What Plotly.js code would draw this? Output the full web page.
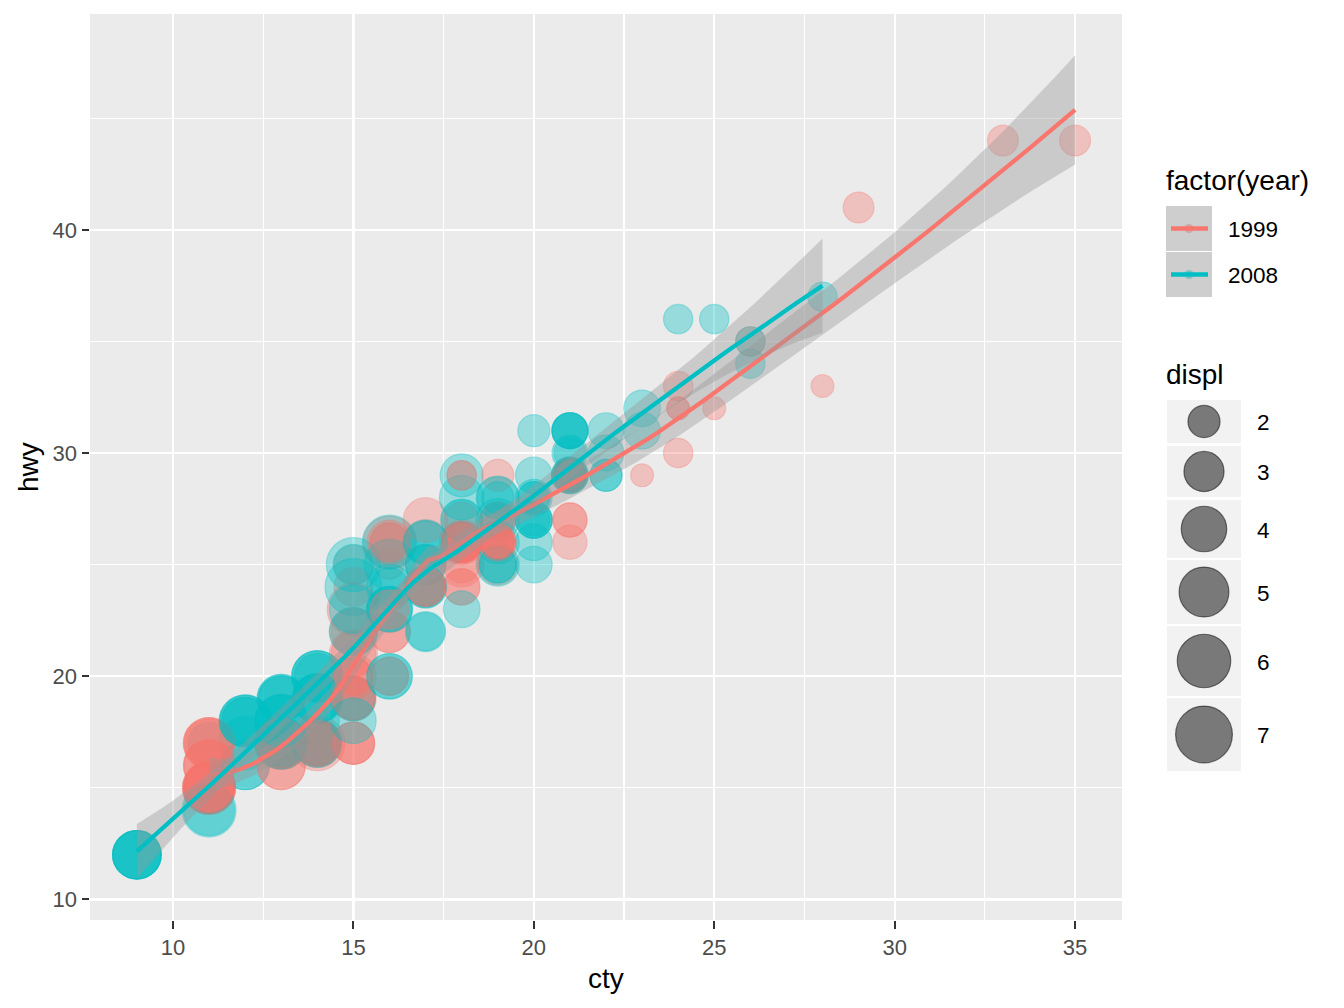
<!DOCTYPE html>
<html>
<head>
<meta charset="utf-8">
<script src="https://cdn.plot.ly/plotly-3.0.1.min.js"></script>
<style>html,body{margin:0;padding:0;background:#fff;}#chart{width:1344px;height:1008px;}</style>
</head>
<body>
<div id="chart"></div>
<script>
// ---- data (mpg: cty, hwy, displ, year), row order ----
const cty = [18,21,20,21,16,18,18,18,16,20,19,15,17,17,15,15,17,16,14,11,14,13,12,16,15,16,15,15,14,11,11,14,19,22,18,18,17,18,17,16,16,17,17,11,15,15,16,16,15,14,13,14,14,14,9,11,11,13,13,9,13,11,13,11,12,9,13,13,12,9,11,11,13,11,11,11,12,14,15,14,13,13,13,14,14,13,13,13,11,13,18,18,17,16,15,15,15,15,14,28,24,25,23,24,26,25,24,21,18,18,21,21,18,18,19,19,19,20,20,17,16,17,17,15,15,14,9,14,13,11,11,12,12,11,11,11,12,14,13,13,13,21,19,23,23,19,19,18,19,19,14,15,14,12,18,16,17,18,16,18,18,20,19,20,18,21,19,19,19,20,20,19,20,15,16,15,15,16,14,21,21,21,21,18,18,19,21,21,21,22,18,18,18,24,24,26,28,26,11,13,15,16,17,15,15,15,16,21,19,21,22,17,33,21,19,22,21,21,21,16,17,35,29,21,19,20,20,21,18,19,21,16,18,17];
const hwy = [29,29,31,30,26,26,27,26,25,28,27,25,25,25,25,24,25,23,20,15,20,17,17,26,23,26,25,24,19,14,15,17,27,30,26,29,26,24,24,22,22,24,24,17,22,21,23,23,19,18,17,17,19,19,12,17,15,17,17,12,17,16,18,15,16,12,17,17,16,12,15,16,17,15,17,17,18,17,19,17,19,19,17,17,17,16,16,17,15,17,26,25,26,24,21,22,23,22,20,33,32,32,29,32,34,36,36,29,26,27,30,31,26,26,28,26,29,28,27,24,24,24,22,19,20,17,12,19,18,14,15,18,18,15,17,16,18,17,19,19,17,29,27,31,32,27,26,26,25,25,17,17,20,18,26,26,27,28,25,25,24,27,25,26,23,26,26,26,26,25,27,25,27,20,20,19,17,20,17,29,27,31,31,26,26,28,27,29,31,31,26,26,27,30,33,35,37,35,15,18,20,20,22,17,19,18,20,29,26,29,29,24,44,29,26,29,29,29,29,23,24,44,41,29,26,28,29,29,29,28,29,26,26,26];
const displ = [1.8,1.8,2.0,2.0,2.8,2.8,3.1,1.8,1.8,2.0,2.0,2.8,2.8,3.1,3.1,2.8,3.1,4.2,5.3,5.3,5.3,5.7,6.0,5.7,5.7,6.2,6.2,7.0,5.3,5.3,5.7,6.5,2.4,2.4,3.1,3.5,3.6,2.4,3.0,3.3,3.3,3.3,3.3,3.3,3.8,3.8,3.8,4.0,3.7,3.7,3.9,3.9,4.7,4.7,4.7,5.2,5.2,3.9,4.7,4.7,4.7,5.2,5.7,5.9,4.7,4.7,4.7,4.7,4.7,4.7,5.2,5.2,5.7,5.9,4.6,5.4,5.4,4.0,4.0,4.0,4.0,4.6,5.0,4.2,4.2,4.6,4.6,4.6,5.4,5.4,3.8,3.8,4.0,4.0,4.6,4.6,4.6,4.6,5.4,1.6,1.6,1.6,1.6,1.6,1.8,1.8,1.8,2.0,2.4,2.4,2.4,2.4,2.5,2.5,3.3,2.0,2.0,2.0,2.0,2.7,2.7,2.7,3.0,3.7,4.0,4.7,4.7,4.7,5.7,6.1,4.0,4.2,4.4,4.6,5.4,5.4,5.4,4.0,4.0,4.6,5.0,2.4,2.4,2.5,2.5,3.5,3.5,3.0,3.0,3.5,3.3,3.3,4.0,5.6,3.1,3.8,3.8,3.8,5.3,2.5,2.5,2.5,2.5,2.5,2.5,2.2,2.2,2.5,2.5,2.5,2.5,2.5,2.5,2.7,2.7,3.4,3.4,4.0,4.7,2.2,2.2,2.4,2.4,3.0,3.0,3.5,2.2,2.2,2.4,2.4,3.0,3.0,3.3,1.8,1.8,1.8,1.8,1.8,4.7,5.7,2.7,2.7,2.7,3.4,3.4,4.0,4.0,2.0,2.0,2.0,2.0,2.8,1.9,2.0,2.0,2.0,2.0,2.5,2.5,2.8,2.8,1.9,1.9,2.0,2.0,2.5,2.5,1.8,1.8,2.0,2.0,2.8,2.8,3.6];
const year = [1999,1999,2008,2008,1999,1999,2008,1999,1999,2008,2008,1999,1999,2008,2008,1999,2008,2008,2008,2008,2008,1999,2008,1999,1999,2008,2008,2008,2008,2008,1999,1999,1999,2008,1999,2008,2008,1999,1999,1999,1999,2008,2008,2008,1999,1999,2008,2008,2008,2008,1999,1999,2008,2008,2008,1999,1999,1999,2008,2008,2008,1999,2008,1999,2008,2008,2008,2008,2008,2008,1999,1999,2008,1999,1999,1999,2008,1999,1999,1999,2008,2008,1999,1999,1999,1999,1999,2008,1999,2008,1999,1999,2008,2008,1999,1999,2008,2008,2008,1999,1999,1999,1999,1999,2008,2008,2008,2008,1999,1999,2008,2008,1999,1999,2008,1999,1999,2008,2008,2008,2008,2008,2008,2008,1999,1999,2008,2008,2008,2008,1999,2008,2008,1999,1999,1999,2008,1999,2008,2008,1999,1999,1999,2008,2008,2008,2008,1999,1999,2008,1999,1999,2008,2008,1999,1999,1999,2008,2008,1999,1999,2008,2008,2008,2008,1999,1999,1999,1999,2008,2008,2008,2008,1999,1999,1999,1999,2008,2008,1999,1999,2008,2008,1999,1999,2008,1999,1999,2008,2008,1999,1999,2008,1999,1999,1999,2008,2008,1999,2008,1999,1999,2008,1999,1999,2008,2008,1999,1999,2008,2008,1999,1999,1999,1999,2008,2008,2008,2008,1999,1999,1999,1999,1999,1999,2008,2008,1999,1999,2008,2008,1999,1999,2008];
const yearLevels = [1999, 2008];
const displBreaks = [2, 3, 4, 5, 6, 7];

// ---- styles ----
const yearColor = {1999: [248,118,109], 2008: [0,191,196]};
const rgba = (c, a) => `rgba(${c[0]},${c[1]},${c[2]},${a})`;
const FONT = 'Liberation Sans, Arial, sans-serif';
const dMin = Math.min(...displ), dMax = Math.max(...displ);
const diam = d => 24 + 34 * Math.sqrt((d - dMin) / (dMax - dMin));
const STROKE = 1.2;

// ---- loess (degree 2, span 0.75, gaussian) as in geom_smooth ----
function loessWeights(xs, x0, q) {
  const n = xs.length;
  const d = xs.map(x => Math.abs(x - x0));
  const s = d.slice().sort((a, b) => a - b);
  let h = s[q - 1];
  if (h <= 0) h = 1e-9;
  const w = d.map(di => di < h ? Math.pow(1 - Math.pow(di / h, 3), 3) : 0);
  const z = xs.map(x => (x - x0) / h);
  let S = [0,0,0,0,0];
  for (let i = 0; i < n; i++) { let p = w[i]; for (let k = 0; k < 5; k++) { S[k] += p; p *= z[i]; } }
  const a=S[0],b=S[1],c=S[2],d2=S[3],e=S[4];
  // symmetric matrix [[a,b,c],[b,c,d2],[c,d2,e]]; first row of inverse
  const A00 = c*e - d2*d2, A01 = -(b*e - c*d2), A02 = b*d2 - c*c;
  const det = a*A00 + b*A01 + c*A02;
  const r0 = A00/det, r1 = A01/det, r2 = A02/det;
  return xs.map((x, i) => w[i] * (r0 + r1*z[i] + r2*z[i]*z[i]));
}
function loessSmooth(xs, ys, span, m) {
  const n = xs.length, q = Math.floor(n * span);
  const L = xs.map(x0 => loessWeights(xs, x0, q));
  const fitted = L.map(r => r.reduce((s, v, j) => s + v * ys[j], 0));
  let rss = 0; for (let i = 0; i < n; i++) rss += (ys[i] - fitted[i]) ** 2;
  const IL = L.map((r, i) => r.map((v, j) => (i === j ? 1 : 0) - v));
  const M = [];
  for (let i = 0; i < n; i++) { M.push(new Array(n).fill(0)); }
  for (let k = 0; k < n; k++) { const rk = IL[k]; for (let i = 0; i < n; i++) { const a = rk[i]; if (a === 0) continue; const Mi = M[i]; for (let j = 0; j < n; j++) Mi[j] += a * rk[j]; } }
  let d1 = 0, d2 = 0;
  for (let i = 0; i < n; i++) { d1 += M[i][i]; for (let j = 0; j < n; j++) d2 += M[i][j] ** 2; }
  const sigma = Math.sqrt(rss / d1), df = d1 * d1 / d2;
  const z = 1.959963985;
  const t = z + (z**3 + z) / 4 / df + (5*z**5 + 16*z**3 + 3*z) / 96 / df**2 + (3*z**7 + 19*z**5 + 17*z**3 - 15*z) / 384 / df**3;
  const lo = Math.min(...xs), hi = Math.max(...xs);
  const gx = [], gy = [], gl = [], gu = [];
  for (let k = 0; k < m; k++) {
    const x0 = lo + (hi - lo) * k / (m - 1);
    const l = loessWeights(xs, x0, q);
    const f = l.reduce((s, v, j) => s + v * ys[j], 0);
    const se = sigma * Math.sqrt(l.reduce((s, v) => s + v * v, 0));
    gx.push(x0); gy.push(f); gl.push(f - t * se); gu.push(f + t * se);
  }
  return {x: gx, y: gy, lo: gl, hi: gu};
}

const traces = [{
  type: 'scatter', mode: 'markers', x: cty, y: hwy, hoverinfo: 'skip', showlegend: false,
  marker: {size: displ.map(d => diam(d) - STROKE), color: year.map(y => rgba(yearColor[y], 0.5)),
           line: {width: STROKE, color: year.map(y => rgba(yearColor[y], 0.5))}}
}];
let yAll = hwy.slice();
yearLevels.forEach(yr => {
  const xs = [], ys = [];
  cty.forEach((c, i) => { if (year[i] === yr) { xs.push(c); ys.push(hwy[i]); } });
  const sm = loessSmooth(xs, ys, 0.75, 80);
  yAll = yAll.concat(sm.lo, sm.hi);
  traces.push({type: 'scatter', mode: 'lines', x: sm.x.concat(sm.x.slice().reverse()), y: sm.hi.concat(sm.lo.slice().reverse()),
    fill: 'toself', fillcolor: 'rgba(153,153,153,0.4)', line: {width: 0}, hoverinfo: 'skip', showlegend: false});
  traces.push({type: 'scatter', mode: 'lines', x: sm.x, y: sm.y, line: {color: rgba(yearColor[yr], 1), width: 4.3}, hoverinfo: 'skip', showlegend: false});
});

const xr0 = Math.min(...cty), xr1 = Math.max(...cty);
const yr0 = Math.min(...yAll), yr1 = Math.max(...yAll);
const xRange = [xr0 - 0.05 * (xr1 - xr0), xr1 + 0.05 * (xr1 - xr0)];
const yRange = [yr0 - 0.05 * (yr1 - yr0), yr1 + 0.05 * (yr1 - yr0)];

// ---- pixel helpers for legend (plot area 90..1122 x 14..920) ----
const PL = 90, PR = 1122, PT = 14, PB = 920;
const px = v => (v - PL) / (PR - PL);
const py = v => (PB - v) / (PB - PT);
const shapes = [], annotations = [];
const rect = (x0, y0, x1, y1, fill) => shapes.push({type: 'rect', xref: 'paper', yref: 'paper', x0: px(x0), x1: px(x1), y0: py(y1), y1: py(y0), fillcolor: fill, line: {width: 0}, layer: 'above'});
const circ = (cx, cy, d, fill, lineCol, lw) => shapes.push({type: 'circle', xref: 'paper', yref: 'paper', x0: px(cx - d/2), x1: px(cx + d/2), y0: py(cy + d/2), y1: py(cy - d/2), fillcolor: fill, line: {width: lw || 0, color: lineCol || fill}, layer: 'above'});
const text = (x, y, s, size, color, anchor) => annotations.push({xref: 'paper', yref: 'paper', x: px(x), y: py(y), text: s, showarrow: false, xanchor: anchor || 'left', yanchor: 'middle', font: {family: FONT, size: size, color: color}});

// year legend
text(1164, 180, 'factor(year)', 28, '#000');
const yKeys = [[206, 251], [252, 297]];
yearLevels.forEach((yr, k) => {
  const [a, b] = yKeys[k], cy = (a + b) / 2;
  rect(1166, a, 1212, b, '#F2F2F2');
  circ(1189, cy, 9, rgba(yearColor[yr], 0.5));
  rect(1166, a, 1212, b, 'rgba(153,153,153,0.4)');
  shapes.push({type: 'line', xref: 'paper', yref: 'paper', x0: px(1171), x1: px(1208), y0: py(cy), y1: py(cy), line: {color: rgba(yearColor[yr], 1), width: 4.6}, layer: 'above'});
  text(1226, cy + 1, String(yr), 22.5, '#000');
});
// displ legend
text(1164, 374, 'displ', 28, '#000');
const dKeys = [[400, 443], [446, 497], [500, 558], [560, 624], [626, 696], [698, 771]];
displBreaks.forEach((v, k) => {
  const [a, b] = dKeys[k], cy = (a + b) / 2;
  rect(1167, a, 1241, b, '#F2F2F2');
  circ(1204, cy, diam(v) - STROKE, 'rgba(0,0,0,0.5)', 'rgba(0,0,0,0.5)', STROKE);
  text(1255, cy + 1, String(v), 22.5, '#000');
});
// axis titles
text(606, 978, 'cty', 28, '#000', 'center');
annotations.push({xref: 'paper', yref: 'paper', x: px(28), y: py(467), text: 'hwy', textangle: -90, showarrow: false, xanchor: 'center', yanchor: 'middle', font: {family: FONT, size: 28, color: '#000'}});

const axisCommon = {showline: false, zeroline: false, ticks: 'outside', ticklen: 7.5, tickwidth: 2, tickcolor: '#333333',
  showgrid: true, gridcolor: '#FFFFFF', gridwidth: 2.2, tickfont: {family: FONT, size: 22, color: '#4D4D4D'}, fixedrange: true};
const layout = {
  width: 1344, height: 1008, margin: {l: PL, r: 1344 - PR, t: PT, b: 1008 - PB},
  paper_bgcolor: '#FFFFFF', plot_bgcolor: '#EBEBEB', showlegend: false,
  xaxis: Object.assign({}, axisCommon, {range: xRange, tickmode: 'array', tickvals: [10, 15, 20, 25, 30, 35],
    minor: {tickmode: 'array', tickvals: [7.5, 12.5, 17.5, 22.5, 27.5, 32.5], showgrid: true, gridcolor: '#FFFFFF', gridwidth: 1.1, ticks: ''}}),
  yaxis: Object.assign({}, axisCommon, {range: yRange, tickmode: 'array', tickvals: [10, 20, 30, 40],
    minor: {tickmode: 'array', tickvals: [15, 25, 35, 45], showgrid: true, gridcolor: '#FFFFFF', gridwidth: 1.1, ticks: ''}}),
  shapes: shapes, annotations: annotations
};
Plotly.newPlot('chart', traces, layout, {displayModeBar: false, staticPlot: true});
</script>
</body>
</html>
